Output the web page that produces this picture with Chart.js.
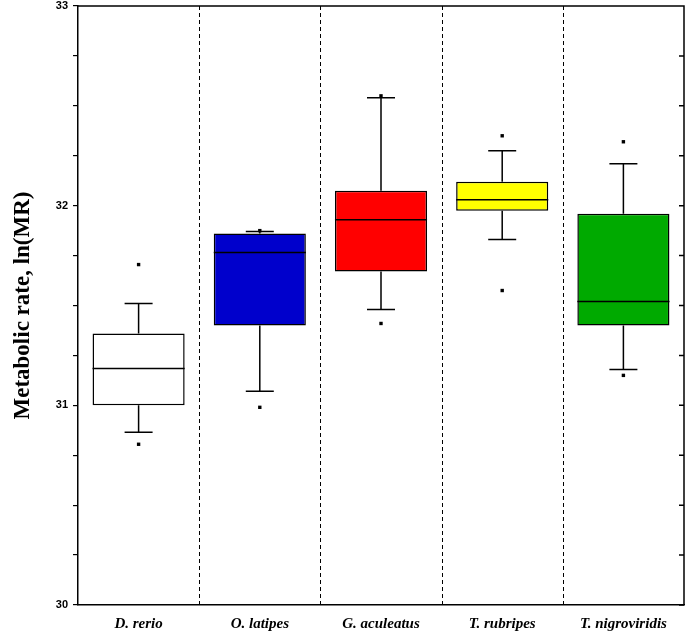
<!DOCTYPE html>
<html>
<head>
<meta charset="utf-8">
<script src="https://cdn.jsdelivr.net/npm/chart.js@4"></script>
<style>
  html, body { margin: 0; padding: 0; background: #fff; }
  #wrap { width: 689px; height: 634px; }
</style>
</head>
<body>
<div id="wrap"><canvas id="box-chart"></canvas></div>
<script>
const species = ['D. rerio', 'O. latipes', 'G. aculeatus', 'T. rubripes', 'T. nigroviridis'];
const lowerWhisker = [30.865, 31.07, 31.48, 31.83, 31.18];
const q1 = [31.0, 31.40, 31.67, 31.975, 31.40];
const median = [31.185, 31.765, 31.93, 32.03, 31.52];
const q3 = [31.36, 31.86, 32.075, 32.12, 31.96];
const upperWhisker = [31.51, 31.87, 32.54, 32.275, 32.21];
const outliers = [[30.805, 31.705], [30.99, 31.875], [31.41, 32.55], [31.575, 32.35], [31.15, 32.32]];
const boxColors = ['#ffffff', '#0000cc', '#ff0000', '#ffff00', '#00aa00'];

const outlierPoints = [];
outliers.forEach((list, i) => list.forEach(v => outlierPoints.push({x: species[i], y: v})));

// whiskers, medians, separators and the frame
const boxExtras = {
  id: 'boxExtras',
  afterDatasetsDraw(chart) {
    const ctx = chart.ctx;
    const x = chart.scales.x, y = chart.scales.y;
    const area = chart.chartArea;
    const bars = chart.getDatasetMeta(0).data;
    ctx.save();
    ctx.strokeStyle = '#000';
    ctx.lineWidth = 1.5;
    bars.forEach((bar, i) => {
      const cx = x.getPixelForValue(i);
      const half = bar.width / 2;
      const cap = 14;
      const yMed = y.getPixelForValue(median[i]);
      ctx.beginPath();
      ctx.moveTo(cx - half, yMed); ctx.lineTo(cx + half, yMed);
      // upper whisker
      ctx.moveTo(cx, y.getPixelForValue(q3[i])); ctx.lineTo(cx, y.getPixelForValue(upperWhisker[i]));
      ctx.moveTo(cx - cap, y.getPixelForValue(upperWhisker[i])); ctx.lineTo(cx + cap, y.getPixelForValue(upperWhisker[i]));
      // lower whisker
      ctx.moveTo(cx, y.getPixelForValue(q1[i])); ctx.lineTo(cx, y.getPixelForValue(lowerWhisker[i]));
      ctx.moveTo(cx - cap, y.getPixelForValue(lowerWhisker[i])); ctx.lineTo(cx + cap, y.getPixelForValue(lowerWhisker[i]));
      ctx.stroke();
    });

    // dashed separators
    ctx.lineWidth = 1;
    ctx.setLineDash([4, 3]);
    for (let i = 0; i < species.length - 1; i++) {
      const sx = Math.round((x.getPixelForValue(i) + x.getPixelForValue(i + 1)) / 2) + 0.5;
      ctx.beginPath();
      ctx.moveTo(sx, area.top); ctx.lineTo(sx, area.bottom);
      ctx.stroke();
    }
    ctx.setLineDash([]);

    // top and right frame with inward ticks
    ctx.lineWidth = 1.5;
    ctx.beginPath();
    ctx.moveTo(area.left, area.top); ctx.lineTo(area.right, area.top); ctx.lineTo(area.right, area.bottom);
    y.ticks.forEach(t => {
      const ty = y.getPixelForValue(t.value);
      ctx.moveTo(area.right, ty); ctx.lineTo(area.right - 5, ty);
    });
    ctx.stroke();
    ctx.restore();
  }
};

new Chart(document.getElementById('box-chart'), {
  type: 'bar',
  data: {
    labels: species,
    datasets: [{
      data: species.map((s, i) => [q1[i], q3[i]]),
      backgroundColor: boxColors,
      borderColor: '#000',
      borderWidth: 1.5,
      borderSkipped: false,
      categoryPercentage: 1,
      barPercentage: 0.76
    }, {
      type: 'scatter',
      data: outlierPoints,
      pointStyle: 'rect',
      pointRadius: 2.4,
      backgroundColor: '#000',
      borderColor: '#000',
      borderWidth: 0
    }]
  },
  options: {
    responsive: true,
    maintainAspectRatio: false,
    animation: false,
    layout: { padding: { top: 6, right: 5, left: 0, bottom: 0 } },
    plugins: { legend: { display: false }, tooltip: { enabled: false } },
    scales: {
      x: {
        type: 'category',
        offset: true,
        afterFit: s => { s.height = 29; },
        grid: { display: false },
        border: { display: true, color: '#000', width: 1.5 },
        ticks: {
          color: '#000',
          padding: 2,
          font: { family: 'Liberation Serif', size: 15, weight: 'bold', style: 'italic' }
        }
      },
      y: {
        min: 30,
        max: 33,
        afterFit: s => { s.width = 78; s.paddingTop = 0; s.paddingBottom = 0; },
        afterBuildTicks: s => {
          s.ticks = [];
          for (let v = 30; v <= 33.0001; v += 0.25) s.ticks.push({ value: Math.round(v * 100) / 100 });
        },
        grid: { drawOnChartArea: false, drawTicks: true, tickLength: 5, color: '#000', lineWidth: 1.2 },
        border: { display: true, color: '#000', width: 1.5 },
        ticks: {
          color: '#000',
          padding: 5,
          autoSkip: false,
          font: { family: 'Liberation Sans', size: 11, weight: 'bold' },
          callback: v => Number.isInteger(v) ? String(v) : ''
        },
        title: {
          display: true,
          text: 'Metabolic rate, ln(MR)',
          color: '#000',
          padding: { top: 9, bottom: 0 },
          font: { family: 'Liberation Serif', size: 23, weight: 'bold' }
        }
      }
    }
  },
  plugins: [boxExtras]
});
</script>
</body>
</html>
